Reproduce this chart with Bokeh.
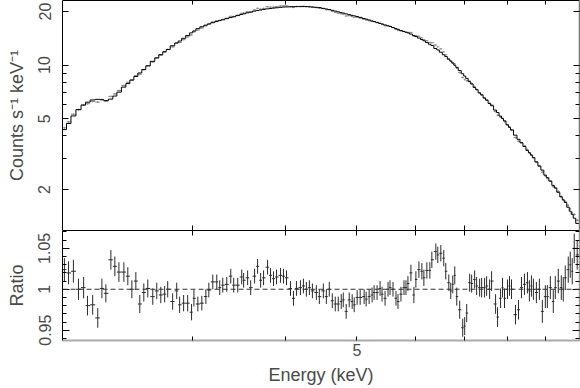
from bokeh.plotting import figure
from bokeh.models import (Range1d, LogAxis, LinearAxis, FixedTicker, Span,
                          BasicTickFormatter, CustomJSTickFormatter)
from bokeh.layouts import column
from bokeh.embed import file_html
from bokeh.resources import INLINE

# ---------------- data ----------------
energy = [
    2.012, 2.038, 2.069, 2.102, 2.136, 2.162, 2.197, 2.232, 2.261, 2.289,
    2.325, 2.354, 2.384, 2.421, 2.451, 2.482, 2.513, 2.544, 2.576, 2.608,
    2.649, 2.682, 2.716, 2.749, 2.775, 2.818, 2.854, 2.880, 2.916, 2.953,
    2.989, 3.011, 3.048, 3.086, 3.125, 3.154, 3.193, 3.233, 3.263, 3.294,
    3.335, 3.377, 3.408, 3.451, 3.494, 3.515, 3.559, 3.593, 3.637, 3.671,
    3.706, 3.740, 3.787, 3.822, 3.858, 3.894, 3.943, 3.979, 4.017, 4.067,
    4.105, 4.143, 4.195, 4.234, 4.273, 4.313, 4.354, 4.408, 4.449, 4.505,
    4.547, 4.589, 4.632, 4.675, 4.719, 4.763, 4.793, 4.837, 4.883, 4.928,
    4.959, 5.005, 5.052, 5.115, 5.147, 5.195, 5.243, 5.276, 5.325, 5.375,
    5.408, 5.459, 5.510, 5.544, 5.596, 5.648, 5.683, 5.736, 5.790, 5.826,
    5.862, 5.917, 5.972, 6.009, 6.066, 6.122, 6.160, 6.218, 6.276, 6.315,
    6.394, 6.433, 6.494, 6.554, 6.595, 6.657, 6.698, 6.740, 6.782, 6.824,
    6.887, 6.952, 6.995, 7.039, 7.104, 7.148, 7.215, 7.260, 7.328, 7.374,
    7.442, 7.489, 7.559, 7.606, 7.701, 7.748, 7.821, 7.869, 7.918, 7.992,
    8.042, 8.092, 8.193, 8.270, 8.347, 8.425, 8.504, 8.556, 8.610, 8.663,
    8.744, 8.826, 8.908, 8.991, 9.047, 9.132, 9.217, 9.274, 9.361, 9.449,
    9.507, 9.566, 9.656, 9.716, 9.776, 9.837, 9.929,
]

model_counts = [
    4.34, 4.70, 5.18, 5.62, 5.96, 6.19, 6.37, 6.42, 6.39, 6.31,
    6.44, 6.70, 7.05, 7.52, 7.87, 8.24, 8.63, 9.03, 9.45, 9.90,
    10.50, 10.98, 11.44, 11.89, 12.24, 12.84, 13.31, 13.65, 14.14, 14.65,
    15.17, 15.55, 16.02, 16.42, 16.76, 17.02, 17.31, 17.58, 17.79, 17.97,
    18.23, 18.49, 18.68, 18.97, 19.25, 19.41, 19.66, 19.85, 20.11, 20.28,
    20.40, 20.53, 20.69, 20.80, 20.90, 20.99, 21.11, 21.19, 21.22, 21.27,
    21.30, 21.31, 21.31, 21.31, 21.31, 21.25, 21.19, 21.11, 21.04, 20.83,
    20.66, 20.50, 20.31, 20.11, 19.91, 19.72, 19.59, 19.40, 19.21, 19.03,
    18.91, 18.73, 18.54, 18.27, 18.13, 17.92, 17.71, 17.58, 17.38, 17.15,
    17.02, 16.82, 16.63, 16.48, 16.25, 16.04, 15.88, 15.65, 15.43, 15.29,
    15.16, 14.94, 14.66, 14.47, 14.19, 13.92, 13.70, 13.40, 13.09, 12.89,
    12.40, 12.16, 11.81, 11.43, 11.17, 10.79, 10.54, 10.26, 9.98, 9.71,
    9.32, 8.94, 8.68, 8.42, 8.07, 7.83, 7.49, 7.27, 6.98, 6.80,
    6.53, 6.35, 6.09, 5.91, 5.59, 5.41, 5.17, 5.01, 4.86, 4.62,
    4.47, 4.32, 4.04, 3.83, 3.66, 3.49, 3.32, 3.22, 3.12, 3.02,
    2.86, 2.71, 2.57, 2.41, 2.33, 2.23, 2.11, 2.04, 1.93, 1.82,
    1.75, 1.69, 1.59, 1.51, 1.45, 1.38, 1.29,
]

ratio = [
    1.024, 1.020, 1.022, 1.000, 1.002, 0.980, 0.981, 0.965, 1.001, 0.995,
    1.036, 1.028, 1.021, 1.021, 1.016, 1.000, 1.010, 0.982, 0.996, 1.001,
    0.991, 0.998, 0.993, 0.994, 1.000, 0.985, 0.998, 0.981, 0.983, 0.983,
    0.972, 0.989, 0.982, 0.983, 0.991, 0.999, 1.009, 1.009, 1.002, 1.005,
    1.006, 1.016, 1.005, 1.005, 1.015, 1.011, 1.014, 1.002, 1.016, 1.028,
    1.011, 1.014, 1.027, 1.017, 1.013, 1.015, 1.017, 1.016, 1.014, 1.001,
    0.989, 1.001, 1.002, 1.004, 1.000, 1.002, 0.998, 0.996, 0.991, 0.998,
    0.991, 1.000, 0.986, 0.982, 0.982, 0.985, 0.987, 0.973, 0.987, 0.985,
    0.981, 0.990, 0.990, 0.991, 0.988, 0.991, 0.993, 0.996, 0.996, 1.001,
    0.994, 0.989, 1.000, 1.002, 1.000, 0.989, 0.985, 0.994, 1.002, 1.002,
    1.007, 1.020, 0.993, 1.012, 1.024, 1.022, 1.014, 1.023, 1.023, 1.036,
    1.046, 1.042, 1.044, 1.038, 1.022, 1.008, 0.998, 1.006, 1.017, 0.991,
    0.975, 0.953, 0.955, 0.971, 1.008, 1.007, 1.012, 1.004, 1.002, 1.002,
    1.002, 1.004, 1.000, 1.010, 0.982, 0.966, 0.989, 1.002, 0.989, 1.000,
    1.004, 1.000, 0.969, 0.975, 1.002, 1.006, 1.008, 0.998, 1.004, 1.000,
    0.996, 1.000, 0.973, 0.991, 0.991, 1.002, 0.985, 1.002, 1.010, 1.002,
    1.000, 1.014, 1.024, 1.030, 1.022, 1.050, 1.042,
]

ratio_err = [
    0.014, 0.014, 0.014, 0.013, 0.013, 0.012, 0.012, 0.012, 0.012, 0.011,
    0.012, 0.012, 0.012, 0.012, 0.011, 0.011, 0.011, 0.011, 0.011, 0.011,
    0.010, 0.010, 0.010, 0.010, 0.010, 0.010, 0.010, 0.010, 0.010, 0.010,
    0.010, 0.010, 0.009, 0.009, 0.009, 0.009, 0.009, 0.009, 0.009, 0.009,
    0.009, 0.009, 0.009, 0.009, 0.009, 0.009, 0.009, 0.009, 0.009, 0.009,
    0.009, 0.009, 0.009, 0.009, 0.009, 0.009, 0.009, 0.009, 0.009, 0.009,
    0.009, 0.009, 0.009, 0.009, 0.009, 0.009, 0.009, 0.009, 0.009, 0.009,
    0.009, 0.009, 0.009, 0.009, 0.009, 0.009, 0.009, 0.009, 0.009, 0.009,
    0.009, 0.009, 0.009, 0.009, 0.009, 0.009, 0.009, 0.009, 0.009, 0.009,
    0.009, 0.009, 0.009, 0.009, 0.009, 0.009, 0.009, 0.009, 0.009, 0.009,
    0.009, 0.010, 0.010, 0.010, 0.010, 0.010, 0.010, 0.010, 0.010, 0.010,
    0.010, 0.010, 0.010, 0.010, 0.010, 0.010, 0.010, 0.011, 0.011, 0.011,
    0.011, 0.011, 0.011, 0.011, 0.011, 0.011, 0.011, 0.011, 0.011, 0.012,
    0.012, 0.012, 0.012, 0.012, 0.012, 0.012, 0.012, 0.012, 0.012, 0.012,
    0.012, 0.012, 0.012, 0.012, 0.013, 0.013, 0.013, 0.013, 0.013, 0.013,
    0.013, 0.013, 0.014, 0.014, 0.014, 0.014, 0.014, 0.014, 0.015, 0.015,
    0.015, 0.015, 0.016, 0.016, 0.016, 0.018, 0.018,
]

x_ticks_major = [5]
x_ticks_minor = [3, 4, 6, 7, 8, 9]
y_ticks_major = [2, 5, 10, 20]
y_ticks_minor = [3, 4, 6, 7, 8, 9]
r_ticks_major = [0.95, 1.0, 1.05]
r_ticks_minor = [0.94, 0.96, 0.97, 0.98, 0.99, 1.01, 1.02, 1.03, 1.04, 1.06, 1.07]

E_MIN, E_MAX = 2.0, 10.0
C_MIN, C_MAX = 1.177, 23.06
R_MIN, R_MAX = 0.9374, 1.0718

# ---------------- derived table ----------------
n = len(energy)
edges = [E_MIN] + [(energy[i] * energy[i + 1]) ** 0.5 for i in range(n - 1)] + [E_MAX]
lo = edges[:-1]
hi = edges[1:]
data_counts = [m * r for m, r in zip(model_counts, ratio)]
data_err = [m * e for m, e in zip(model_counts, ratio_err)]

step_x, step_y = [], []
for a, b, m in zip(lo, hi, model_counts):
    step_x += [a, b]
    step_y += [m, m]

FONT = "Liberation Sans"
TXT = "#4a4a4a"
BLANK = CustomJSTickFormatter(code="return '';")

def style(ax, labels, major_len, minor_len, line_color="black", line_width=1):
    ax.major_tick_in = major_len
    ax.major_tick_out = 0
    ax.minor_tick_in = minor_len
    ax.minor_tick_out = 0
    ax.major_tick_line_color = "black"
    ax.minor_tick_line_color = "black"
    ax.axis_line_color = line_color
    ax.axis_line_width = line_width
    ax.major_label_text_font = FONT
    ax.major_label_text_color = TXT
    ax.axis_label_text_font = FONT
    ax.axis_label_text_color = TXT
    ax.axis_label_text_font_style = "normal"
    if not labels:
        ax.formatter = BLANK
        ax.major_label_text_font_size = "1px"
        ax.major_label_text_alpha = 0
        ax.major_label_standoff = 0
    return ax

def make_fig(y_type, y_rng, fh):
    p = figure(x_axis_type="log", y_axis_type=y_type, x_range=xr, y_range=y_rng,
               frame_width=517, frame_height=fh,
               min_border_left=62, min_border_right=1, min_border_top=0,
               min_border_bottom=0, x_axis_location=None, y_axis_location=None,
               toolbar_location=None, output_backend="svg")
    p.outline_line_color = None
    p.background_fill_color = "white"
    p.border_fill_color = "white"
    p.xgrid.visible = False
    p.ygrid.visible = False
    return p

xr = Range1d(E_MIN, E_MAX)

# ---------------- top panel ----------------
p1 = make_fig("log", Range1d(C_MIN, C_MAX), 230)

yl = style(LogAxis(ticker=FixedTicker(ticks=y_ticks_major, minor_ticks=y_ticks_minor),
                   formatter=BasicTickFormatter()), True, 6, 4)
yl.axis_label = "Counts s\u207b\u00b9 keV\u207b\u00b9"
yl.axis_label_text_font_size = "18px"
yl.major_label_text_font_size = "16px"
yl.major_label_orientation = "vertical"
yl.major_label_standoff = 12
yl.axis_label_standoff = 9
p1.add_layout(yl, "left")
p1.add_layout(style(LogAxis(ticker=FixedTicker(ticks=y_ticks_major, minor_ticks=y_ticks_minor)),
                    False, 6, 4, "#777777", 1.5), "right")
p1.add_layout(style(LogAxis(ticker=FixedTicker(ticks=x_ticks_major, minor_ticks=x_ticks_minor)),
                    False, 4, 4), "above")
p1.add_layout(style(LogAxis(ticker=FixedTicker(ticks=x_ticks_major, minor_ticks=x_ticks_minor)),
                    False, 5, 5), "below")

p1.segment(x0=lo, x1=hi, y0=data_counts, y1=data_counts, line_color="#8a8a8a", line_width=1)
p1.segment(x0=energy, x1=energy,
           y0=[d - e for d, e in zip(data_counts, data_err)],
           y1=[d + e for d, e in zip(data_counts, data_err)],
           line_color="#8a8a8a", line_width=1)
p1.line(step_x, step_y, line_color="black", line_width=1)

# ---------------- ratio panel ----------------
p2 = make_fig("linear", Range1d(R_MIN, R_MAX), 110)

ry = style(LinearAxis(ticker=FixedTicker(ticks=r_ticks_major, minor_ticks=r_ticks_minor),
                      formatter=CustomJSTickFormatter(code="return String(Math.round(tick*100)/100);")),
           True, 7, 4)
ry.axis_label = "Ratio"
ry.axis_label_text_font_size = "18px"
ry.major_label_text_font_size = "16px"
ry.major_label_orientation = "vertical"
ry.major_label_standoff = 12
ry.axis_label_standoff = 9
p2.add_layout(ry, "left")
p2.add_layout(style(LinearAxis(ticker=FixedTicker(ticks=r_ticks_major, minor_ticks=r_ticks_minor)),
                    False, 7, 4, "#999999", 1.5), "right")
p2.add_layout(style(LogAxis(ticker=FixedTicker(ticks=x_ticks_major, minor_ticks=x_ticks_minor)),
                    False, 5, 5), "above")
bx = style(LogAxis(ticker=FixedTicker(ticks=x_ticks_major, minor_ticks=x_ticks_minor),
                   formatter=BasicTickFormatter()), True, 4, 4, "#aaaaaa", 2)
bx.axis_label = "Energy (keV)"
bx.axis_label_text_font_size = "18px"
bx.major_label_text_font_size = "16px"
bx.major_label_standoff = 3
bx.axis_label_standoff = 6
p2.add_layout(bx, "below")

p2.add_layout(Span(location=1.0, dimension="width", line_color="#333333",
                   line_dash="5 3", line_width=1))
p2.segment(x0=lo, x1=hi, y0=ratio, y1=ratio, line_color="#2a2a2a", line_width=1)
p2.segment(x0=energy, x1=energy,
           y0=[r - e for r, e in zip(ratio, ratio_err)],
           y1=[r + e for r, e in zip(ratio, ratio_err)],
           line_color="#2a2a2a", line_width=1)

layout = column(p1, p2, spacing=0)
open("out.html", "w").write(file_html(layout, INLINE))
